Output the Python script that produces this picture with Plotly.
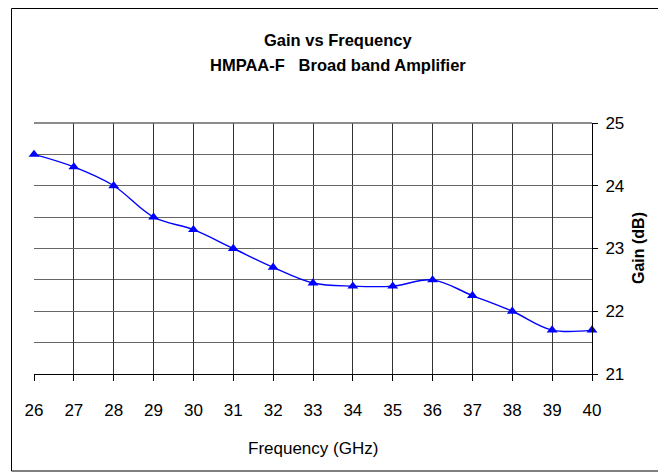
import plotly.graph_objects as go

freq_ghz = [26, 27, 28, 29, 30, 31, 32, 33, 34, 35, 36, 37, 38, 39, 40]
gain_db = [24.5, 24.3, 24.0, 23.5, 23.3, 23.0, 22.7, 22.45, 22.4, 22.4, 22.5, 22.25, 22.0, 21.7, 21.7]
x_ticks = list(range(26, 41))
y_ticks = [21, 22, 23, 24, 25]
title_line1 = "Gain vs Frequency"
title_line2 = "HMPAA-F&nbsp;&nbsp;&nbsp;Broad band Amplifier"
x_title = "Frequency (GHz)"
y_title = "Gain (dB)"

SANS = "Liberation Sans, Arial, sans-serif"

# the page body has an 8px default margin, so the figure is sized to fit the window
OFF = 8
W, H = 666 - OFF, 472 - OFF
L, R, T, B = 26, 74, 115, 98
PW = W - L - R
PH = H - T - B

def px_x(x):
    return (x - OFF - L) / PW

def px_y(y):
    return (H - B - (y - OFF)) / PH

fig = go.Figure()
fig.add_trace(go.Scatter(
    x=freq_ghz, y=gain_db, mode="lines+markers",
    line=dict(color="#0000FF", width=1.4, shape="spline", smoothing=1.0),
    marker=dict(symbol="triangle-up", size=9.5, color="#0000FF"),
    showlegend=False, cliponaxis=False,
))

fig.update_layout(
    width=W, height=H,
    margin=dict(l=L, r=R, t=T, b=B, pad=0),
    paper_bgcolor="white", plot_bgcolor="white",
    font=dict(family=SANS, size=17, color="black"),
    xaxis=dict(
        range=[26, 40], tickvals=x_ticks, ticktext=[str(v) for v in x_ticks],
        showgrid=True, gridcolor="#333333", gridwidth=1,
        showline=True, linecolor="black", linewidth=1,
        ticks="outside", ticklen=6, tickcolor="black",
        tickfont=dict(family=SANS, size=17),
        ticklabelstandoff=15, zeroline=False,
    ),
    yaxis=dict(
        range=[21, 25], tickvals=y_ticks, side="right",
        showgrid=True, gridcolor="#666666", gridwidth=1.3,
        minor=dict(dtick=0.5, showgrid=True, gridcolor="#666666", gridwidth=1.3, ticks=""),
        showline=True, linecolor="black", linewidth=1,
        ticks="outside", ticklen=5, tickcolor="black",
        tickfont=dict(family=SANS, size=17),
        ticklabelstandoff=4, zeroline=False,
    ),
    shapes=[
        dict(type="rect", xref="paper", yref="paper",
             x0=px_x(11.5), x1=px_x(665), y0=px_y(471), y1=px_y(8.5),
             line=dict(color="black", width=1), fillcolor="rgba(0,0,0,0)", layer="below"),
        dict(type="line", xref="paper", yref="paper", x0=0, x1=1, y0=1, y1=1,
             line=dict(color="#666666", width=1.3)),
    ],
    annotations=[
        dict(text="<b>" + title_line1 + "</b>", x=px_x(338), y=px_y(40), xref="paper", yref="paper",
             xanchor="center", yanchor="middle", showarrow=False, font=dict(family=SANS, size=16.5)),
        dict(text="<b>" + title_line2 + "</b>", x=px_x(338), y=px_y(65), xref="paper", yref="paper",
             xanchor="center", yanchor="middle", showarrow=False, font=dict(family=SANS, size=16.5)),
        dict(text=x_title, x=0.5, y=px_y(448), xref="paper", yref="paper",
             xanchor="center", yanchor="middle", showarrow=False, font=dict(family=SANS, size=17)),
        dict(text="<b>" + y_title + "</b>", x=px_x(638), y=px_y(248), xref="paper", yref="paper",
             xanchor="center", yanchor="middle", textangle=-90, showarrow=False,
             font=dict(family=SANS, size=16)),
    ],
)

fig.write_html("out.html")
